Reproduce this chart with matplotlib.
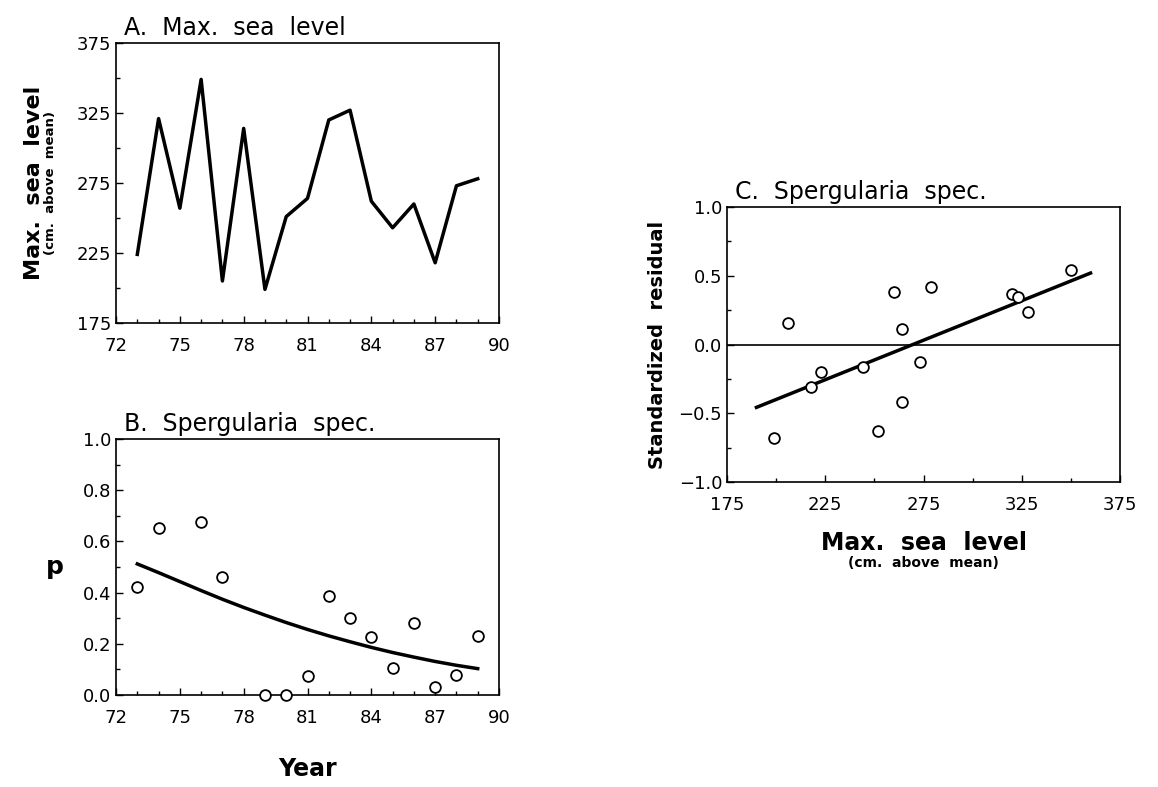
import matplotlib.pyplot as plt
from matplotlib.ticker import MultipleLocator

plt.rcParams['font.family'] = ['DejaVu Sans']

# A. Max. sea level per year
years = [73, 74, 75, 76, 77, 78, 79, 80, 81, 82, 83, 84, 85, 86, 87, 88, 89]
sea_level = [224, 321, 257, 349, 205, 314, 199, 251, 264, 320, 327, 262,
             243, 260, 218, 273, 278]

# B. Spergularia spec., observed p and fitted curve
p_years = [73, 74, 76, 77, 79, 80, 81, 82, 83, 84, 85, 86, 87, 88, 89]
p_obs = [0.42, 0.652, 0.674, 0.459, 0.0, 0.0, 0.076, 0.387, 0.302, 0.228,
         0.107, 0.28, 0.033, 0.078, 0.231]
fit_years = [73, 74, 75, 76, 77, 78, 79, 80, 81, 82, 83, 84, 85, 86, 87, 88, 89]
p_fit = [0.512, 0.478, 0.443, 0.408, 0.374, 0.342, 0.312, 0.283, 0.256, 0.231,
         0.208, 0.186, 0.166, 0.148, 0.131, 0.116, 0.103]

# C. residuals against max. sea level
resid_x = [199, 206, 218, 223, 244, 252, 260, 264, 264, 273, 279, 320, 323, 328, 350]
resid_y = [-0.68, 0.16, -0.31, -0.2, -0.16, -0.63, 0.38, 0.11, -0.42, -0.13,
           0.42, 0.37, 0.345, 0.24, 0.54]
trend_x = [190, 360]
trend_y = [-0.457, 0.52]

level_ticks = [175, 225, 275, 325, 375]
level_minor = [200, 250, 300, 350]
year_ticks = [72, 75, 78, 81, 84, 87, 90]

fig = plt.figure(figsize=(11.58, 7.87), dpi=100)


def style(ax):
    ax.tick_params(which='major', direction='in', length=5, width=1, labelsize=13)
    ax.tick_params(which='minor', direction='in', length=3, width=1)
    for s in ax.spines.values():
        s.set_linewidth(1.2)


# panel A
axA = fig.add_axes([0.1002, 0.5896, 0.3307, 0.3558])
axA.plot(years, sea_level, color='black', lw=2.5)
axA.set_xlim(72, 90)
axA.set_ylim(175, 375)
axA.set_xticks(year_ticks)
axA.xaxis.set_minor_locator(MultipleLocator(1))
axA.set_yticks(level_ticks)
axA.set_yticks(level_minor, minor=True)
style(axA)
axA.tick_params(axis='x', pad=10)
axA.set_title('A.  Max.  sea  level', loc='left', fontsize=17, pad=6, x=0.02)
axA.text(-0.215, 0.5, 'Max.  sea  level', rotation=90, transform=axA.transAxes,
         ha='center', va='center', fontsize=16, fontweight='bold')
axA.text(-0.17, 0.5, '(cm.  above  mean)', rotation=90, transform=axA.transAxes,
         ha='center', va='center', fontsize=9.5, fontweight='bold')

# panel B
axB = fig.add_axes([0.1002, 0.1169, 0.3307, 0.3253])
axB.plot(fit_years, p_fit, color='black', lw=2.5)
axB.scatter(p_years, p_obs, s=60, facecolors='white', edgecolors='black',
            linewidths=1.3, zorder=3, clip_on=False)
axB.set_xlim(72, 90)
axB.set_ylim(0, 1)
axB.set_xticks(year_ticks)
axB.xaxis.set_minor_locator(MultipleLocator(1))
axB.yaxis.set_major_locator(MultipleLocator(0.2))
axB.yaxis.set_minor_locator(MultipleLocator(0.1))
axB.yaxis.set_major_formatter(lambda v, pos: f'{v:.1f}')
style(axB)
axB.tick_params(axis='x', pad=10)
axB.set_title('B.  Spergularia  spec.', loc='left', fontsize=17, pad=6, x=0.02)
axB.set_ylabel('p', rotation=0, fontsize=18, fontweight='bold', labelpad=20, va='center')
axB.set_xlabel('Year', fontsize=17, fontweight='bold', labelpad=22)

# panel C
axC = fig.add_axes([0.6278, 0.3875, 0.3394, 0.3494])
axC.axhline(0, color='black', lw=1.2)
axC.plot(trend_x, trend_y, color='black', lw=2.5)
axC.scatter(resid_x, resid_y, s=60, facecolors='white', edgecolors='black',
            linewidths=1.3, zorder=3)
axC.set_xlim(175, 375)
axC.set_ylim(-1, 1)
axC.set_xticks(level_ticks)
axC.set_xticks(level_minor, minor=True)
axC.yaxis.set_major_locator(MultipleLocator(0.5))
axC.yaxis.set_minor_locator(MultipleLocator(0.25))
axC.yaxis.set_major_formatter(lambda v, pos: f'{v:.1f}'.replace('-', '\u2212'))
style(axC)
axC.tick_params(axis='x', pad=10)
axC.set_title('C.  Spergularia  spec.', loc='left', fontsize=17, pad=6, x=0.02)
axC.set_ylabel('Standardized  residual', fontsize=14, fontweight='bold', labelpad=8)
axC.set_xlabel('Max.  sea  level', fontsize=17, fontweight='bold', labelpad=12)
axC.text(0.5, -0.27, '(cm.  above  mean)', transform=axC.transAxes, ha='center',
         va='top', fontsize=10, fontweight='bold')

fig.savefig('out.png', dpi=100)
